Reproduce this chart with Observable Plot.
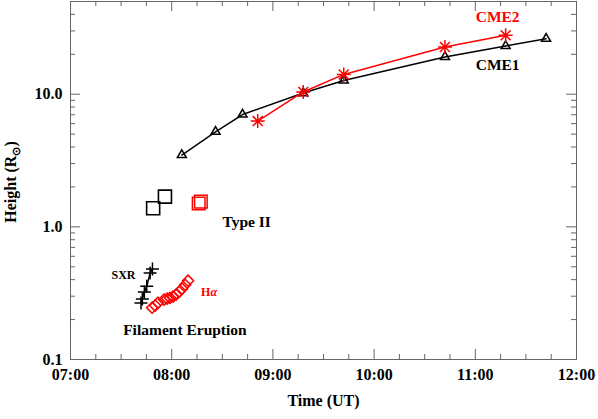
<!DOCTYPE html>
<html><head><meta charset="utf-8">
<script src="https://cdn.jsdelivr.net/npm/d3@7"></script>
<script src="https://cdn.jsdelivr.net/npm/@observablehq/plot@0.6"></script>
<style>body{margin:0;background:#fff} svg{display:block}</style>
</head><body><div id="chart"></div>
<script>
// ---- data (time UT, height in solar radii) ----
const cme1Times = ["08:06","08:26","08:42","09:18","09:42","10:42","11:18","11:42"];
const cme1Heights = [3.48, 5.21, 7.03, 10.2, 12.7, 19.1, 23.1, 26.2];
const cme2Times = ["08:51","09:18","09:42","10:42","11:18"];
const cme2Heights = [6.27, 10.4, 14.1, 22.7, 27.8];
const typeIIBlackTimes = ["07:49","07:56"];
const typeIIBlackHeights = [1.38, 1.69];
const typeIIRedTimes = ["08:16","08:17.3"];
const typeIIRedHeights = [1.50, 1.55];
const sxrTimes = ["07:41.8","07:42.6","07:43.8","07:45.2","07:47.2","07:48.6"];
const sxrHeights = [0.267, 0.286, 0.323, 0.356, 0.449, 0.481];
const haTimes = ["07:48.4","07:50.2","07:51.9","07:55.5","07:57.3","07:59.0","08:00.8","08:02.6","08:04.4","08:06.2","08:08.0","08:09.7"];
const haHeights = [0.246, 0.255, 0.268, 0.283, 0.288, 0.292, 0.298, 0.308, 0.324, 0.342, 0.366, 0.393];
const xTickHours = [7, 8, 9, 10, 11, 12];
const xTickLabels = ["07:00","08:00","09:00","10:00","11:00","12:00"];
const yTickValues = [0.1, 1, 10];
const yTickLabels = ["0.1","1.0","10.0"];
const yMinorValues = [0.2,0.3,0.4,0.5,0.6,0.7,0.8,0.9,2,3,4,5,6,7,8,9,20,30,40];
const xMinorHours = d3.range(7, 12.001, 0.25).filter(h => h % 1 !== 0);

// ---- helpers ----
const toH = s => { const [h, m] = s.split(":"); return +h + +m / 60; };
const rows = (times, heights) => times.map((t, i) => ({x: toH(t), y: heights[i]}));
const cme1 = rows(cme1Times, cme1Heights);
const cme2 = rows(cme2Times, cme2Heights);
const t2b = rows(typeIIBlackTimes, typeIIBlackHeights);
const t2r = rows(typeIIRedTimes, typeIIRedHeights);
const sxr = rows(sxrTimes, sxrHeights);
const ha = rows(haTimes, haHeights);

const star8 = {draw(ctx, size) {
  const r = Math.sqrt(size / Math.PI), d = r * Math.SQRT1_2;
  ctx.moveTo(-r, 0); ctx.lineTo(r, 0); ctx.moveTo(0, -r); ctx.lineTo(0, r);
  ctx.moveTo(-d, -d); ctx.lineTo(d, d); ctx.moveTo(-d, d); ctx.lineTo(d, -d);
}};
const plus = {draw(ctx, size) {
  const r = Math.sqrt(size / Math.PI);
  ctx.moveTo(-r, 0); ctx.lineTo(r, 0); ctx.moveTo(0, -r); ctx.lineTo(0, r);
}};

const W = 598, Ht = 419, mL = 70, mR = 22, mT = 1, mB = 60;
const pw = W - mL - mR, ph = Ht - mT - mB;
const axisColor = "#666";
const RED = "#ff0000";
const serif = "Liberation Serif, Times New Roman, serif";

const chart = Plot.plot({
  width: W, height: Ht,
  marginLeft: mL, marginRight: mR, marginTop: mT, marginBottom: mB,
  style: {fontFamily: serif, fontWeight: "bold", fontSize: "16px", background: "#fff"},
  x: {domain: [7, 12], axis: null},
  y: {type: "log", domain: [0.1, 50], axis: null},
  marks: [
    Plot.frame({stroke: axisColor}),
    // ticks (inward, on all four sides)
    Plot.tickY(yTickValues, {y: d => d, insetRight: pw - 10, stroke: axisColor}),
    Plot.tickY(yTickValues, {y: d => d, insetLeft: pw - 10, stroke: axisColor}),
    Plot.tickY(yMinorValues, {y: d => d, insetRight: pw - 5, stroke: axisColor}),
    Plot.tickY(yMinorValues, {y: d => d, insetLeft: pw - 5, stroke: axisColor}),
    Plot.tickX(xTickHours, {x: d => d, insetTop: ph - 10, stroke: axisColor}),
    Plot.tickX(xTickHours, {x: d => d, insetBottom: ph - 10, stroke: axisColor}),
    Plot.tickX(xMinorHours, {x: d => d, insetTop: ph - 5, stroke: axisColor}),
    Plot.tickX(xMinorHours, {x: d => d, insetBottom: ph - 5, stroke: axisColor}),
    Plot.axisY({ticks: yTickValues, tickFormat: d => yTickLabels[yTickValues.indexOf(d)], tickSize: 0, tickPadding: 8, fill: "#000", label: null}),
    Plot.axisX({ticks: xTickHours, tickFormat: d => xTickLabels[xTickHours.indexOf(d)], tickSize: 0, tickPadding: 9, fill: "#000", label: null}),
    Plot.text(["Time (UT)"], {frameAnchor: "bottom", dy: 46, text: d => d, fill: "#000", fontSize: 16}),
    // CME1
    Plot.line(cme1, {x: "x", y: "y", stroke: "#000", strokeWidth: 1.5}),
    Plot.dot(cme1, {x: "x", y: "y", symbol: "triangle2", r: 4.3, stroke: "#000", strokeWidth: 1.5, fill: "none"}),
    // CME2
    Plot.line(cme2, {x: "x", y: "y", stroke: RED, strokeWidth: 1.5}),
    Plot.dot(cme2, {x: "x", y: "y", symbol: star8, r: 7, stroke: RED, strokeWidth: 1.5, fill: "none"}),
    // Type II
    Plot.dot(t2b, {x: "x", y: "y", symbol: "square2", r: 8.3, stroke: "#000", strokeWidth: 1.6, fill: "none"}),
    Plot.dot(t2r, {x: "x", y: "y", symbol: "square2", r: 8.0, stroke: RED, strokeWidth: 1.5, fill: "none"}),
    // SXR
    Plot.line(sxr, {x: "x", y: "y", stroke: "#000", strokeWidth: 1.5}),
    Plot.dot(sxr, {x: "x", y: "y", symbol: plus, r: 6.5, stroke: "#000", strokeWidth: 1.5, fill: "none"}),
    // H-alpha
    Plot.dot(ha, {x: "x", y: "y", symbol: "diamond2", r: 5, stroke: RED, strokeWidth: 1.5, fill: "none"}),
    // labels
    Plot.text([cme2[cme2.length - 1]], {x: "x", y: "y", text: () => "CME2", dx: -8, dy: -18, fill: RED, fontSize: 15.5}),
    Plot.text([cme1[6]], {x: "x", y: "y", text: () => "CME1", dx: -8, dy: 19, fill: "#000", fontSize: 15.5}),
    Plot.text([t2r[0]], {x: "x", y: "y", text: () => "Type II", dx: 48, dy: 19, fill: "#000", fontSize: 15.5}),
    Plot.text([sxr[sxr.length - 1]], {x: "x", y: "y", text: () => "SXR", textAnchor: "end", dx: -17, dy: 6, fill: "#000", fontSize: 12}),
    Plot.text([ha[ha.length - 1]], {x: "x", y: "y", text: () => "H", textAnchor: "start", dx: 13, dy: 11, fill: RED, fontSize: 12}),
    Plot.text([ha[ha.length - 1]], {x: "x", y: "y", text: () => "α", textAnchor: "start", dx: 22.5, dy: 11, fill: RED, fontSize: 12, fontStyle: "italic"}),
    Plot.text([ha[0]], {x: "x", y: "y", text: () => "Filament Eruption", textAnchor: "start", dx: -29, dy: 22, fill: "#000", fontSize: 15.5})
  ]
});

document.getElementById("chart").append(chart);

// y-axis title with subscript sun symbol
const svg = d3.select(chart);
const title = svg.append("text")
  .attr("transform", "translate(16,182) rotate(-90)")
  .attr("text-anchor", "middle")
  .attr("font-family", serif).attr("font-weight", "bold").attr("font-size", 16)
  .attr("fill", "#000");
title.append("tspan").text("Height (R");
title.append("tspan").attr("font-size", 11).attr("dy", 4).text("⊙");
title.append("tspan").attr("dy", -4).text(")");
</script>
</body></html>
